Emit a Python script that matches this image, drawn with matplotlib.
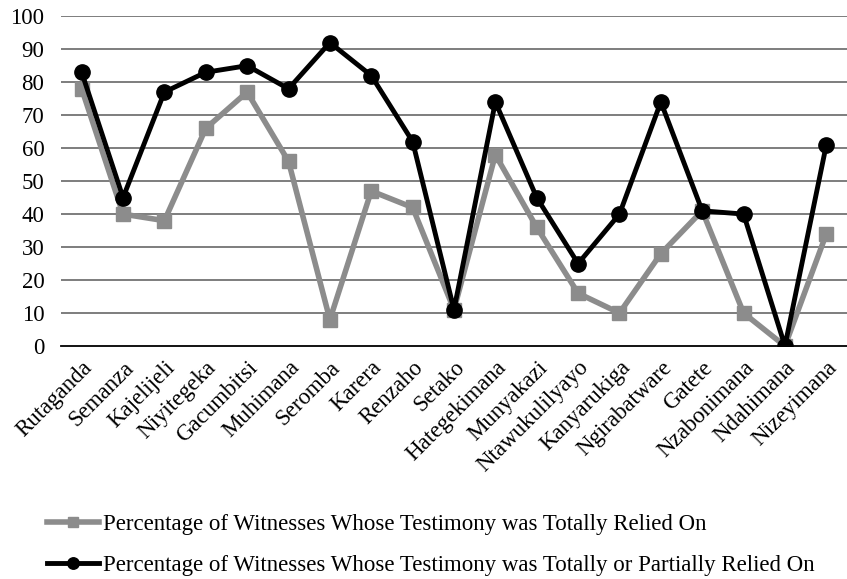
import matplotlib
matplotlib.use("Agg")
import matplotlib.pyplot as plt

names = ["Rutaganda", "Semanza", "Kajelijeli", "Niyitegeka", "Gacumbitsi", "Muhimana",
         "Seromba", "Karera", "Renzaho", "Setako", "Hategekimana", "Munyakazi",
         "Ntawukulilyayo", "Kanyarukiga", "Ngirabatware", "Gatete", "Nzabonimana",
         "Ndahimana", "Nizeyimana"]
totally = [78, 40, 38, 66, 77, 56, 8, 47, 42, 11, 58, 36, 16, 10, 28, 41, 10, 0, 34]
partially = [83, 45, 77, 83, 85, 78, 92, 82, 62, 11, 74, 45, 25, 40, 74, 41, 40, 0, 61]
yticks = list(range(0, 101, 10))
label_total = "Percentage of Witnesses Whose Testimony was Totally Relied On"
label_part = "Percentage of Witnesses Whose Testimony was Totally or Partially Relied On"

plt.rcParams['font.family'] = ['Liberation Serif', 'DejaVu Serif']

fig = plt.figure(figsize=(8.47, 5.79), dpi=100)
ax = fig.add_axes([0.072, 0.4024, 0.928, 0.5696])

x = list(range(len(names)))
l1, = ax.plot(x, totally, color="#8c8c8c", lw=4, marker="s", markersize=10, label=label_total, zorder=3)
l2, = ax.plot(x, partially, color="black", lw=3.5, marker="o", markersize=11, label=label_part, zorder=4)

ax.set_xlim(-0.5, len(names) - 0.5)
ax.set_ylim(0, 100)
ax.set_yticks(yticks)
ax.set_yticklabels([str(v) for v in yticks], fontsize=16.5)
ax.set_xticks(x)
ax.set_xticklabels(names, rotation=45, ha="right", rotation_mode="anchor", fontsize=16.5)
ax.tick_params(length=0)
ax.tick_params(axis="y", pad=12)
ax.tick_params(axis="x", pad=8)

for v in yticks[1:]:
    ax.axhline(v, color="#5a5a5a", lw=1.1, zorder=1)
for s in ["top", "right", "left"]:
    ax.spines[s].set_visible(False)
ax.spines["bottom"].set_color("black")
ax.spines["bottom"].set_linewidth(1.3)
ax.spines["bottom"].set_zorder(2)

fig.legend(handles=[l1, l2], loc="upper left", bbox_to_anchor=(0.055, 0.112),
           frameon=False, fontsize=16.5, handlelength=2.3, handletextpad=0.15,
           labelspacing=0.85, borderaxespad=0, borderpad=0, markerscale=0.75)

fig.savefig("out.png", dpi=100)
